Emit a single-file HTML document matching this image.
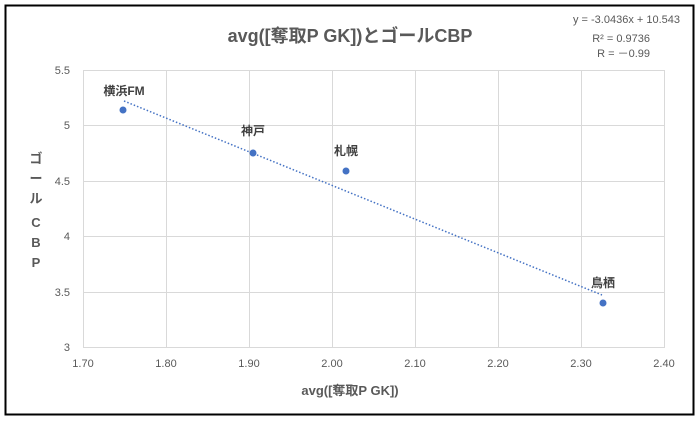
<!DOCTYPE html>
<html><head><meta charset="utf-8"><style>
body{margin:0;background:#fff;}
svg text{font-family:"Liberation Sans","Noto Sans CJK JP",sans-serif;}
</style></head><body>
<svg width="700" height="423" viewBox="0 0 700 423" xmlns="http://www.w3.org/2000/svg">
<rect x="0" y="0" width="700" height="423" fill="#fff"/>
<rect x="5.5" y="5.5" width="688" height="409" fill="#fff" stroke="#000" stroke-width="2"/>
<g stroke="#d9d9d9" stroke-width="1">
<line x1="83" y1="70.5" x2="665" y2="70.5"/>
<line x1="83" y1="125.5" x2="665" y2="125.5"/>
<line x1="83" y1="181.5" x2="665" y2="181.5"/>
<line x1="83" y1="236.5" x2="665" y2="236.5"/>
<line x1="83" y1="292.5" x2="665" y2="292.5"/>
<line x1="83" y1="347.5" x2="665" y2="347.5"/>
<line x1="83.5" y1="70" x2="83.5" y2="347"/>
<line x1="166.5" y1="70" x2="166.5" y2="347"/>
<line x1="249.5" y1="70" x2="249.5" y2="347"/>
<line x1="332.5" y1="70" x2="332.5" y2="347"/>
<line x1="415.5" y1="70" x2="415.5" y2="347"/>
<line x1="498.5" y1="70" x2="498.5" y2="347"/>
<line x1="581.5" y1="70" x2="581.5" y2="347"/>
<line x1="664.5" y1="70" x2="664.5" y2="347"/>
</g>
<g font-size="11" fill="#595959" text-anchor="end">
<text x="70" y="74">5.5</text><text x="70" y="129">5</text><text x="70" y="185">4.5</text>
<text x="70" y="240">4</text><text x="70" y="296">3.5</text><text x="70" y="351">3</text>
</g>
<g font-size="11" fill="#595959" text-anchor="middle">
<text x="83" y="367">1.70</text><text x="166" y="367">1.80</text><text x="249" y="367">1.90</text>
<text x="332" y="367">2.00</text><text x="415" y="367">2.10</text><text x="498" y="367">2.20</text>
<text x="581" y="367">2.30</text><text x="664" y="367">2.40</text>
</g>
<line x1="124" y1="101" x2="602" y2="295" stroke="#4472c4" stroke-width="1.5" stroke-dasharray="1.5 2"/>
<g fill="#4472c4">
<circle cx="123" cy="110" r="3.5"/><circle cx="253" cy="153" r="3.5"/>
<circle cx="346" cy="171" r="3.5"/><circle cx="603" cy="303" r="3.5"/>
</g>
<g font-size="12" fill="#404040" font-weight="bold" text-anchor="middle">
<text x="124" y="95">横浜FM</text><text x="253" y="135">神戸</text>
<text x="346" y="155">札幌</text><text x="603" y="287">鳥栖</text>
</g>
<text x="350" y="42" font-size="18" fill="#595959" font-weight="bold" text-anchor="middle">avg([奪取P GK])とゴールCBP</text>
<text x="350" y="395" font-size="13" fill="#595959" font-weight="bold" text-anchor="middle">avg([奪取P GK])</text>
<g font-size="13" fill="#595959" font-weight="bold" text-anchor="middle">
<text x="36" y="163">ゴ</text><text x="36" y="183">ー</text><text x="36" y="203">ル</text>
<text x="36" y="227">C</text><text x="36" y="247">B</text><text x="36" y="267">P</text>
</g>
<g font-size="11" fill="#595959" text-anchor="end">
<text x="680" y="23">y = -3.0436x + 10.543</text>
<text x="650" y="42">R² = 0.9736</text>
<text x="650" y="57">R = －0.99</text>
</g>
</svg>
</body></html>
